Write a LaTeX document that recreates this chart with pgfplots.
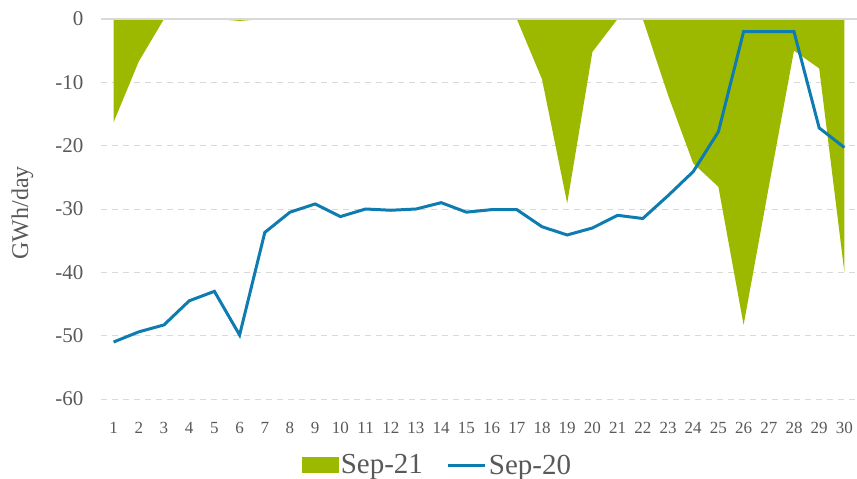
\documentclass[border=0pt]{standalone}
\usepackage{fontspec}
\setmainfont{Liberation Serif}
\usepackage{pgfplots}
\pgfplotsset{compat=1.18}
\definecolor{sgreen}{HTML}{9CB900}
\definecolor{sblue}{HTML}{0E7CB0}
\definecolor{txt}{HTML}{595959}
\definecolor{grd}{HTML}{D9D9D9}
\begin{document}
\begin{tikzpicture}
\path[use as bounding box] (-101pt,-80pt) rectangle (756pt,399pt);
\begin{axis}[
  at={(0pt,0pt)}, anchor=south west,
  scale only axis,
  width=756pt, height=380pt,
  xmin=0.5, xmax=30.5,
  ymin=-60, ymax=0,
  xtick={1,...,30},
  ytick={-60,-50,...,0},
  axis line style={draw=none},
  major tick length=0pt,
  ymajorgrids,
  grid style={grd, line width=0.9pt, dash pattern=on 6pt off 5pt},
  /pgf/number format/assume math mode=true,
  yticklabel style={font=\fontsize{21}{24}\selectfont, text=txt, xshift=-14pt},
  xticklabel style={font=\fontsize{17}{19}\selectfont, text=txt, yshift=-20pt},
  ylabel={GWh/day},
  ylabel style={font=\fontsize{24}{28}\selectfont, text=txt, at={(axis description cs:-0.104,0.49)}, anchor=center},
  legend style={draw=none, fill=none, at={(axis description cs:0.445,-0.174)}, anchor=center, font=\fontsize{29}{33}\selectfont, text=txt, legend columns=2, /tikz/every even column/.append style={column sep=22pt}},
  clip=false,
]
\addplot[fill=sgreen, draw=none, area legend,
  legend image code/.code={\fill[sgreen] (0pt,-8pt) rectangle (37pt,8pt);}]
 coordinates {
 (1,0) (1,-16.3) (2,-6.7) (3,0) (4,0) (5,0) (6,-0.3) (7,0) (8,0) (9,0) (10,0)
 (11,0) (12,0) (13,0) (14,0) (15,0) (16,0) (17,0) (18,-9.5) (19,-29.1) (20,-5.2)
 (21,0) (22,0) (23,-12) (24,-22.8) (25,-26.5) (26,-48.3) (27,-26.5) (28,-5.0)
 (29,-7.8) (30,-40.0) (30,0)} -- cycle;
\addlegendentry{Sep-21}
\addplot[sblue, line width=3pt, mark=none,
  legend image code/.code={\draw[sblue, line width=3pt] (0pt,0pt) -- (37pt,0pt);}]
 coordinates {
 (1,-51.0) (2,-49.4) (3,-48.3) (4,-44.5) (5,-43.0) (6,-49.9) (7,-33.7) (8,-30.5)
 (9,-29.2) (10,-31.2) (11,-30.0) (12,-30.2) (13,-30.0) (14,-29.0) (15,-30.5)
 (16,-30.1) (17,-30.1) (18,-32.8) (19,-34.1) (20,-33.0) (21,-31.0) (22,-31.5)
 (23,-27.9) (24,-24.1) (25,-17.8) (26,-2.0) (27,-2.0) (28,-2.0) (29,-17.2) (30,-20.3)};
\addlegendentry{Sep-20}
\draw[grd, line width=1.5pt] (axis cs:0.5,0) -- (axis cs:30.5,0);
\end{axis}
\end{tikzpicture}
\end{document}
